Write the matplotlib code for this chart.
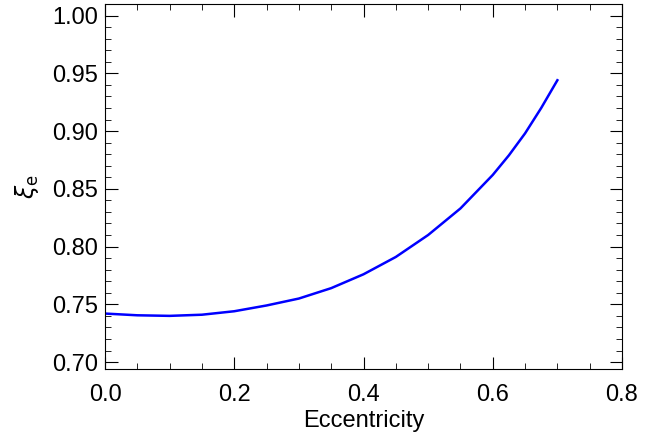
import matplotlib
matplotlib.use("Agg")
import matplotlib.pyplot as plt
from matplotlib.ticker import MultipleLocator

# Values
ecc = [0.0, 0.05, 0.1, 0.15, 0.2, 0.25, 0.3, 0.35, 0.4, 0.45, 0.5, 0.55, 0.6, 0.625, 0.65, 0.675, 0.7]
xi = [0.742, 0.7405, 0.740, 0.741, 0.744, 0.749, 0.755, 0.764, 0.776, 0.791, 0.810, 0.833, 0.862, 0.879, 0.898, 0.920, 0.944]

plt.rcParams["font.family"] = ["Liberation Sans", "DejaVu Sans"]
fig = plt.figure(figsize=(6.65, 4.37), dpi=100)
ax = fig.add_axes([105 / 665, 1 - 369 / 437, 517 / 665, 365 / 437])
ax.plot(ecc, xi, color="#0000ff", linewidth=1.8)

ax.set_xlim(0, 0.8)
ax.set_ylim(0.694, 1.01)
ax.xaxis.set_major_locator(MultipleLocator(0.2))
ax.xaxis.set_minor_locator(MultipleLocator(0.05))
ax.yaxis.set_major_locator(MultipleLocator(0.05))
ax.yaxis.set_minor_locator(MultipleLocator(0.01))
ax.xaxis.set_major_formatter(lambda v, p: f"{v:.1f}")
ax.yaxis.set_major_formatter(lambda v, p: f"{v:.2f}")
ax.tick_params(which="both", direction="in", top=True, right=True, labelsize=17)
ax.tick_params(which="major", length=9)
ax.tick_params(which="minor", length=4.5)
ax.tick_params(axis="x", which="major", pad=11)
ax.tick_params(axis="y", which="major", pad=5)
ax.set_xlabel("Eccentricity", fontsize=17, labelpad=3)
ax.set_ylabel(r"$\xi_\mathrm{e}$", fontsize=17, labelpad=8)

fig.savefig("out.png", dpi=100)
